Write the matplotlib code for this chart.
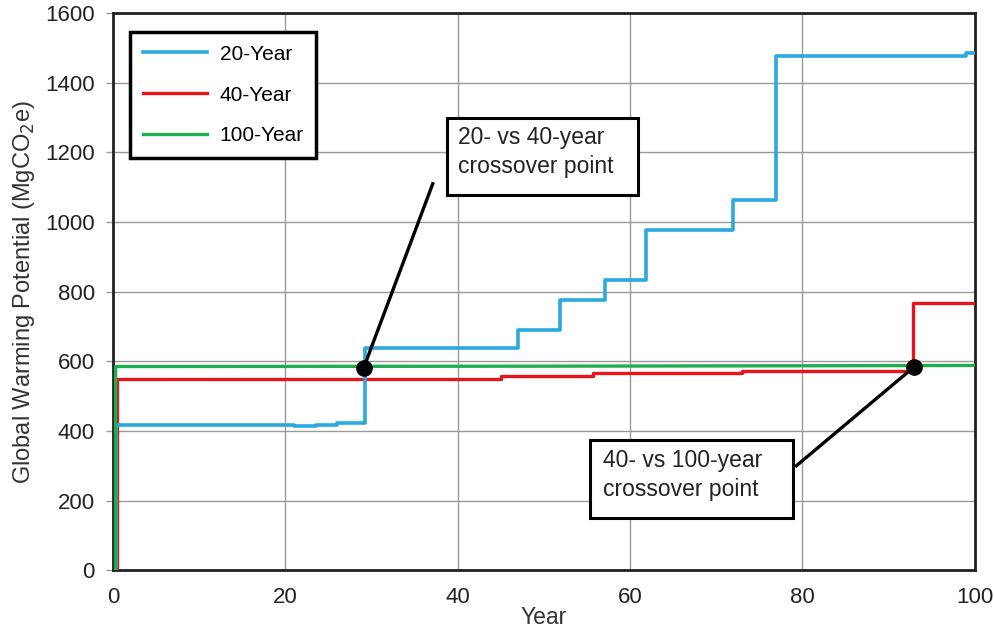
import numpy as np
import matplotlib
matplotlib.use('Agg')
import matplotlib.pyplot as plt
from matplotlib.patches import Rectangle

plt.rcParams['font.family'] = ['Liberation Sans', 'DejaVu Sans']

# step series: year where the value changes, and the value from there on
blue_x = [0.3, 0.3, 21.0, 23.5, 26.0, 29.2, 47.0, 51.9, 57.1, 61.9, 71.9, 76.9, 99.0, 100]
blue_y = [0, 416, 413, 418, 424, 637, 690, 776, 833, 976, 1062, 1476, 1485, 1485]

red_x = [0.5, 0.5, 45.0, 55.7, 73.0, 92.8, 100]
red_y = [0, 548, 557, 565, 571, 768, 768]

green_x = [0.3, 0.3, 50, 100]
green_y = [0, 585, 586, 588]

series_labels = ['20-Year', '40-Year', '100-Year']

# crossover points and where their callout lines end
cross_x = [29.1, 93.0]
cross_y = [582, 585]
callout_x = [37.1, 79.3]
callout_y = [1110, 300]
callout_text = ['20- vs 40-year\ncrossover point', '40- vs 100-year\ncrossover point']
text_x = [40.0, 56.8]
text_y = [1201, 273]
# callout boxes: left, bottom, right, top (data units)
box_x0 = [38.75, 55.3]
box_y0 = [1078, 149]
box_x1 = [60.9, 78.9]
box_y1 = [1299, 374]

x_ticks = [0, 20, 40, 60, 80, 100]
y_ticks = [0, 200, 400, 600, 800, 1000, 1200, 1400, 1600]

fig = plt.figure(figsize=(9.94, 6.3), dpi=100)
ax = fig.add_axes([0.1137, 0.095, 0.867, 0.884])

ax.plot(red_x, red_y, drawstyle='steps-post', color='#e8141b', lw=2.4, label=series_labels[1], zorder=3)
ax.plot(blue_x, blue_y, drawstyle='steps-post', color='#29a9e0', lw=2.6, label=series_labels[0], zorder=4)
ax.plot(green_x, green_y, color='#1fae4f', lw=2.4, label=series_labels[2], zorder=4.5)

for i in range(len(cross_x)):
    ax.plot([cross_x[i], callout_x[i]], [cross_y[i], callout_y[i]], color='black', lw=2.4, zorder=5)
    ax.plot(cross_x[i], cross_y[i], 'o', color='black', ms=11, zorder=6)
    ax.add_patch(Rectangle((box_x0[i], box_y0[i]), box_x1[i] - box_x0[i], box_y1[i] - box_y0[i],
                           fc='white', ec='black', lw=2.2, zorder=7))
    ax.text(text_x[i], text_y[i], callout_text[i], fontsize=16.5, color='#222222',
            ha='left', va='center', linespacing=1.35, zorder=8)

ax.set_xlim(0, 100)
ax.set_ylim(0, 1600)
ax.set_xticks(x_ticks)
ax.set_yticks(y_ticks)
ax.tick_params(axis='both', labelsize=16, colors='#999999', labelcolor='#222222', length=5, width=1)
ax.tick_params(axis='y', pad=8)
ax.tick_params(axis='x', length=0, pad=12)
ax.grid(True, color='#999999', lw=1)
ax.set_axisbelow(True)
for s in ax.spines.values():
    s.set_color('#222222')
    s.set_linewidth(2)

ax.set_xlabel('Year', fontsize=16.5, color='#333333', labelpad=-1)
ax.set_ylabel('Global Warming Potential (MgCO$_2$e)', fontsize=17, color='#333333', labelpad=6)

h, l = ax.get_legend_handles_labels()
order = [1, 0, 2]
leg = ax.legend([h[i] for i in order], [l[i] for i in order], loc='upper left',
                bbox_to_anchor=(0.02, 0.966), borderaxespad=0, fontsize=15,
                handlelength=3.1, labelspacing=1.05, handletextpad=0.6,
                borderpad=0.6, fancybox=False, framealpha=1)
leg.get_frame().set_edgecolor('black')
leg.get_frame().set_linewidth(2.5)
leg.set_zorder(10)

fig.savefig('out.png', dpi=100, facecolor='white')
